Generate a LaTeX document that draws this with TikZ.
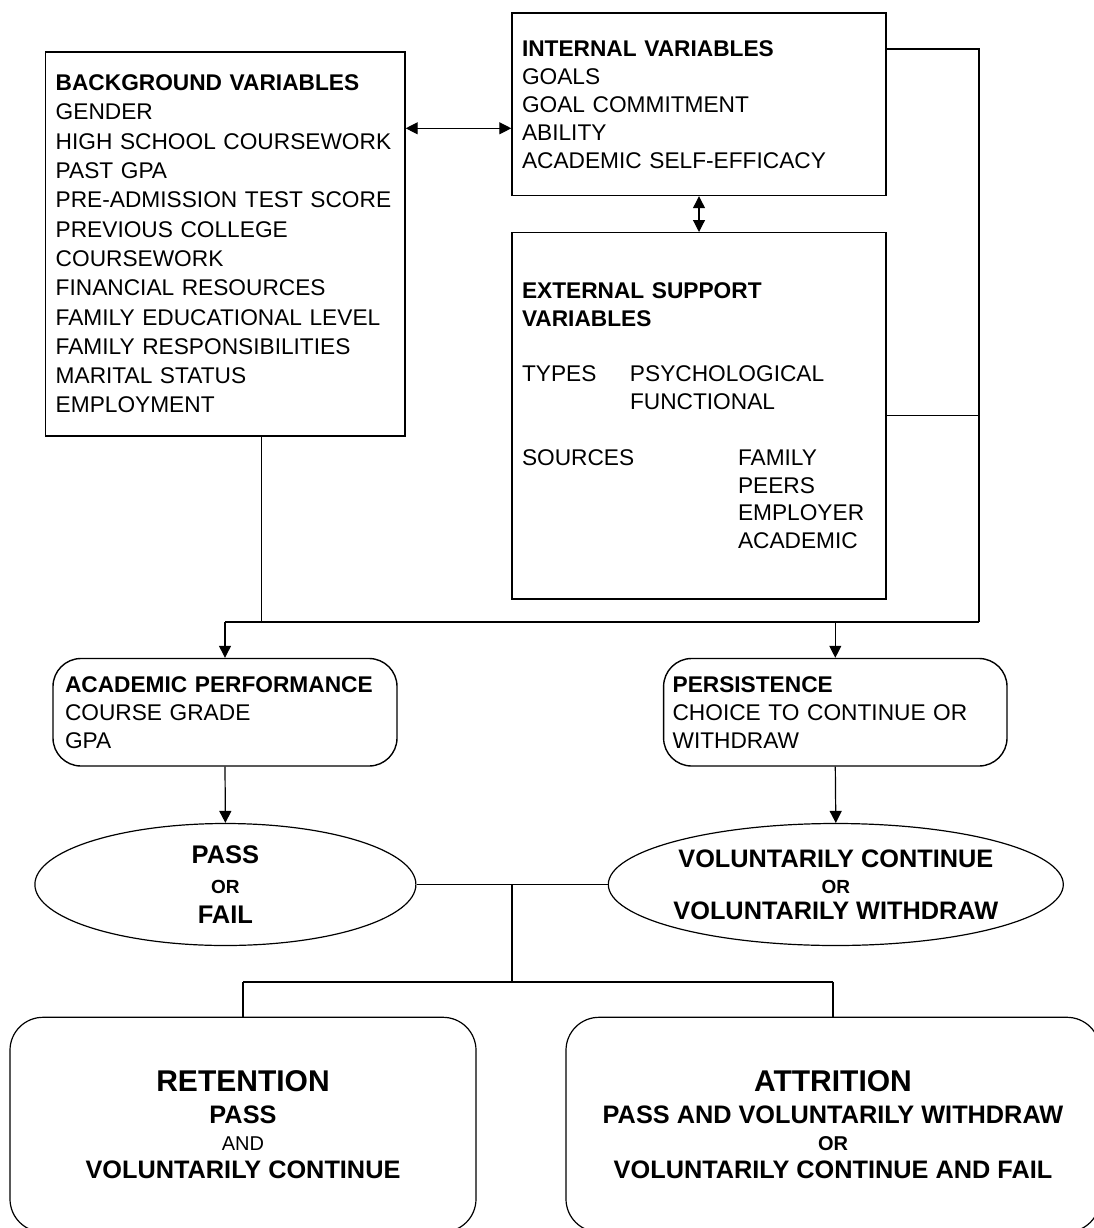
\documentclass[tikz,border=0pt]{standalone}
\usepackage{fontspec}
\setmainfont{Liberation Sans}
\usetikzlibrary{shapes.geometric,arrows.meta,calc}
\begin{document}
\begin{tikzpicture}[x=1pt,y=-1pt,
  box/.style={draw, line width=1.4pt, rectangle, inner xsep=10pt, inner ysep=0pt, align=left, font=\fontsize{22.7}{28}\selectfont},
  rbox/.style={box, rounded corners=28pt},
  oval/.style={draw, line width=1.2pt, ellipse, inner ysep=0pt, align=center},
  bigbox/.style={draw, line width=1.2pt, rounded corners=33pt, inner sep=0pt, align=center},
  conn/.style={line width=1.2pt},
  bus/.style={line width=1.8pt},
  arr/.style={line width=1.2pt, -{Triangle[length=12pt,width=12pt]}},
  dbl/.style={line width=1.2pt, {Triangle[length=12pt,width=12pt]}-{Triangle[length=12pt,width=12pt]}}
]
\fill[white] (0,0) rectangle (1093,1228);
\useasboundingbox (0,0) rectangle (1093,1228);

\node[box, text width=339.3pt, minimum height=384pt, font=\fontsize{22.7}{29.3}\selectfont] (bg) at (225.35,244)
 {\textbf{BACKGROUND VARIABLES}\\GENDER\\HIGH SCHOOL COURSEWORK\\PAST GPA\\PRE-ADMISSION TEST SCORE\\PREVIOUS COLLEGE\\COURSEWORK\\FINANCIAL RESOURCES\\FAMILY EDUCATIONAL LEVEL\\FAMILY RESPONSIBILITIES\\MARITAL STATUS\\EMPLOYMENT};

\node[box, text width=354pt, minimum height=182.5pt, font=\fontsize{22.7}{28}\selectfont] (int) at (699,104.25)
 {\textbf{INTERNAL VARIABLES}\\GOALS\\GOAL COMMITMENT\\ABILITY\\ACADEMIC SELF-EFFICACY};

\node[box, text width=354pt, minimum height=366.3pt, font=\fontsize{22.7}{27.8}\selectfont] (ext) at (699,415.85)
 {\textbf{EXTERNAL SUPPORT}\\\textbf{VARIABLES}\\[27.8pt]\makebox[108pt][l]{TYPES}PSYCHOLOGICAL\\\hspace*{108pt}FUNCTIONAL\\[27.8pt]\makebox[216pt][l]{SOURCES}FAMILY\\\hspace*{216pt}PEERS\\\hspace*{216pt}EMPLOYER\\\hspace*{216pt}ACADEMIC};

\node[rbox, text width=320pt, inner xsep=12pt, minimum height=107.5pt] (acad) at (225,712.25)
 {\textbf{ACADEMIC PERFORMANCE}\\COURSE GRADE\\GPA};

\node[rbox, text width=325.4pt, inner xsep=9pt, minimum height=107.5pt] (pers) at (835.3,712.25)
 {\textbf{PERSISTENCE}\\CHOICE TO CONTINUE OR\\WITHDRAW};

\node[oval, inner xsep=0pt, minimum width=381pt, minimum height=122pt, font=\bfseries\fontsize{25.5}{29.8}\selectfont] (pass) at (225.4,884.5)
 {PASS\\{\fontsize{19}{19}\selectfont OR}\\FAIL};

\node[oval, inner xsep=-8pt, minimum width=455pt, minimum height=122pt, font=\bfseries\fontsize{25.3}{25.8}\selectfont] (vol) at (835.8,884.5)
 {VOLUNTARILY CONTINUE\\{\fontsize{19}{19}\selectfont OR}\\VOLUNTARILY WITHDRAW};

\node[bigbox, minimum width=466pt, minimum height=214.7pt, font=\bfseries\fontsize{25.3}{28}\selectfont] (ret) at (243,1124.65)
 {{\fontsize{30}{30}\selectfont RETENTION}\\[3.2pt]PASS\\[-1.1pt]{\mdseries\fontsize{20}{20}\selectfont AND}\\[0.1pt]VOLUNTARILY CONTINUE};

\node[bigbox, minimum width=534pt, minimum height=214.7pt, font=\bfseries\fontsize{25.3}{28}\selectfont] (att) at (833,1124.65)
 {{\fontsize{30}{30}\selectfont ATTRITION}\\[3.2pt]PASS AND VOLUNTARILY WITHDRAW\\[-1.1pt]{\fontsize{20}{20}\selectfont OR}\\[0.1pt]VOLUNTARILY CONTINUE AND FAIL};

\coordinate (bgi) at ([yshift=-77pt]bg.north east);
\draw[dbl] (bgi) -- (bgi -| int.west);
\draw[dbl] (int.south) -- (ext.north);
\coordinate (intr) at ([yshift=-36.7pt]int.north east);
\coordinate (busR) at (979,622);
\coordinate (bgs) at ([xshift=36pt]bg.south);
\draw[conn] (intr) -- (intr -| busR) -- (busR);
\draw[conn] (ext.east) -- (ext.east -| busR);
\draw[conn] (bgs) -- (bgs |- busR);
\draw[bus] (acad.north |- busR) -- (busR);
\draw[arr] (acad.north |- busR) -- (acad.north);
\draw[arr] (pers.north |- busR) -- (pers.north);
\draw[arr] (acad.south) -- (pass.north);
\draw[arr] (pers.south) -- (vol.north);
\draw[conn] (pass.east) -- (vol.west);
\coordinate (j1) at (512,981.7);
\draw[conn] (j1 |- pass.east) -- (j1);
\draw[bus] (ret.north |- j1) -- (att.north |- j1);
\draw[conn] (ret.north |- j1) -- (ret.north);
\draw[conn] (att.north |- j1) -- (att.north);
\end{tikzpicture}
\end{document}
